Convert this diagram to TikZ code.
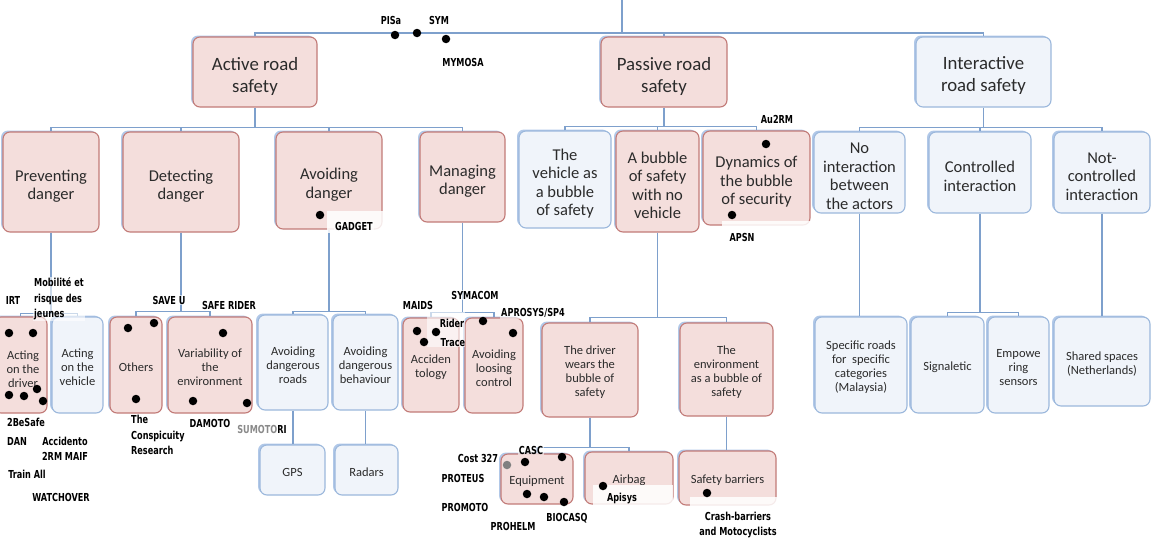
\documentclass[tikz,border=0pt]{standalone}
\usepackage{fontspec}
\setmainfont{Carlito}
\newfontfamily\lblfont[FakeStretch=0.74]{DejaVu Sans}
\usetikzlibrary{shadows}
\definecolor{pinkfill}{HTML}{F4DEDC}
\definecolor{pinkborder}{HTML}{C27B78}
\definecolor{bluefill}{HTML}{F0F4FA}
\definecolor{blueborder}{HTML}{9CB8DC}
\definecolor{shadowblue}{HTML}{A9C3E6}
\definecolor{linecol}{HTML}{7EA0CC}
\definecolor{txt}{HTML}{2B2B2B}
\definecolor{graytxt}{HTML}{8A8A8A}
\tikzset{
 base/.style={rounded corners=7pt, line width=1.1pt, inner sep=0pt,
   drop shadow={shadow xshift=-2pt, shadow yshift=1.5pt, fill=shadowblue, opacity=0.9}},
 pinkbox/.style={base, fill=pinkfill, draw=pinkborder},
 bluebox/.style={base, fill=bluefill, draw=blueborder},
 btext/.style={inner sep=0pt, align=center, text=txt},
 L1/.style={btext, yshift=-4pt, font=\fontsize{18.8}{22}\selectfont},
 L2/.style={btext, yshift=-4pt, font=\fontsize{16.5}{18.5}\selectfont},
 L3/.style={btext, yshift=-2.5pt, font=\fontsize{12.5}{14}\selectfont},
 conn/.style={draw=linecol, line width=1.2pt},
 dot/.style={circle, fill=black, minimum size=8.5pt, inner sep=0pt},
 lbl/.style={font=\lblfont\bfseries\fontsize{11}{15.5}\selectfont, inner sep=1pt, align=center,
   fill=white, fill opacity=0.6, text opacity=1},
 lbll/.style={lbl, align=left},
 patch/.style={fill=white, opacity=0.85},
}
% \bx{name}{box style}{text style}{x1}{y1}{x2}{y2}{text}
\newcommand\bx[8]{\pgfmathsetmacro\bw{#6-#4}\pgfmathsetmacro\bh{#7-#5}%
 \node[#2, minimum width=\bw pt, minimum height=\bh pt] (#1) at ({(#4+#6)/2},{(#5+#7)/2}) {};%
 \node[#3] (#1-t) at (#1.center) {#8};}
\begin{document}
\begin{tikzpicture}[x=1pt,y=-1pt]
\fill[white] (0,0) rectangle (1152,538);
\useasboundingbox (0,0) rectangle (1152,538);
% level 1
\bx{act}{pinkbox}{L1}{193}{37}{317}{107}{Active road\\safety}
\bx{pas}{pinkbox}{L1}{601}{37}{727}{107}{Passive road\\safety}
\bx{inter}{bluebox}{L1}{916}{37}{1051}{107}{Interactive\\road safety}
% level 2
\bx{prev}{pinkbox}{L2}{3}{132}{99}{232}{Preventing\\danger}
\bx{det}{pinkbox}{L2}{123}{132}{239}{232}{Detecting\\danger}
\bx{avd}{pinkbox}{L2}{276}{132}{382}{229}{Avoiding\\danger}
\bx{man}{pinkbox}{L2}{420}{132}{505}{222}{Managing\\danger}
\bx{veh}{bluebox}{L2}{519}{131}{611}{228}{The\\vehicle as\\a bubble\\of safety}
\bx{nov}{pinkbox}{L2}{616}{131}{699}{232}{A bubble\\of safety\\with no\\vehicle}
\bx{dyn}{pinkbox}{L2}{703}{131}{810}{225}{Dynamics of\\the bubble\\of security}
\bx{noi}{bluebox}{L2}{814}{132}{905}{213}{No\\interaction\\between\\the actors}
\bx{ctl}{bluebox}{L2}{929}{132}{1031}{213}{Controlled\\interaction}
\bx{nct}{bluebox}{L2}{1054}{132}{1150}{213}{Not-\\controlled\\interaction}
% level 3
\bx{actd}{pinkbox}{L3}{-6}{317}{47}{413}{}
\node[L3] (actd-tt) at (23,367) {Acting\\on the\\driver};
\bx{actv}{bluebox}{L3}{52}{317}{103}{413}{Acting\\on the\\vehicle}
\bx{oth}{pinkbox}{L3}{110}{317}{162}{413}{Others}
\bx{var}{pinkbox}{L3}{168}{317}{252}{413}{Variability of\\the\\environment}
\bx{adr}{bluebox}{L3}{258}{315}{328}{410}{Avoiding\\dangerous\\roads}
\bx{adb}{bluebox}{L3}{333}{315}{398}{410}{Avoiding\\dangerous\\behaviour}
\bx{gps}{bluebox}{L3}{260}{445}{325}{495}{GPS}
\bx{rad}{bluebox}{L3}{335}{445}{398}{495}{Radars}
\bx{acc}{pinkbox}{L3}{403}{318}{459}{412}{Acciden\\tology}
\bx{alc}{pinkbox}{L3}{465}{318}{523}{413}{Avoiding\\loosing\\control}
\bx{drv}{pinkbox}{L3}{542}{323}{638}{417}{The driver\\wears the\\bubble of\\safety}
\bx{env}{pinkbox}{L3}{680}{323}{773}{416}{The\\environment\\as a bubble of\\safety}
\bx{eqp}{pinkbox}{L3}{501}{454}{573}{504}{Equipment}
\bx{air}{pinkbox}{L3}{585}{452}{673}{504}{Airbag}
\bx{sfb}{pinkbox}{L3}{679}{451}{776}{505}{Safety barriers}
\bx{spr}{bluebox}{L3}{815}{317}{907}{413}{Specific roads\\for~ specific\\categories\\(Malaysia)}
\bx{sig}{bluebox}{L3}{911}{317}{984}{413}{Signaletic}
\bx{emp}{bluebox}{L3}{988}{317}{1049}{413}{Empowe\\ring\\sensors}
\bx{shs}{bluebox}{L3}{1054}{317}{1150}{406}{Shared spaces\\(Netherlands)}
% connectors
\coordinate (top) at (622,0);
\coordinate (b0) at (622,33);
\draw[conn] (top) -- (b0);
\draw[conn] (act.north) |- (b0) -| (inter.north);
\draw[conn] (pas.north) -- (pas.north |- b0);
\path (act.south) ++(0,20) coordinate (b1);
\draw[conn] (act.south) -- (b1);
\draw[conn] (prev.north) |- (b1) -| (man.north);
\draw[conn] (det.north) -- (det.north |- b1);
\draw[conn] (avd.north) -- (avd.north |- b1);
\path (pas.south) ++(0,19) coordinate (b2);
\draw[conn] (pas.south) -- (b2);
\draw[conn] (veh.north) |- (b2) -| (dyn.north);
\draw[conn] (nov.north) -- (nov.north |- b2);
\path (inter.south) ++(0,20) coordinate (b3);
\draw[conn] (inter.south) -- (b3);
\draw[conn] (noi.north) |- (b3) -| (nct.north);
\draw[conn] (ctl.north) -- (ctl.north |- b3);
\path (prev.south) ++(0,81) coordinate (b4);
\draw[conn] (prev.south) -- (b4);
\draw[conn] (actd.north) |- (b4) -| (actv.north);
\path (det.south) ++(0,79) coordinate (b5);
\draw[conn] (det.south) -- (b5);
\draw[conn] (oth.north) |- (b5) -| (var.north);
\path (avd.south) ++(0,82) coordinate (b6);
\draw[conn] (avd.south) -- (b6);
\draw[conn] (adr.north) |- (b6) -| (adb.north);
\path (man.south) ++(0,90) coordinate (b7);
\draw[conn] (man.south) -- (b7);
\draw[conn] (acc.north) |- (b7) -| (alc.north);
\path (nov.south) ++(0,85) coordinate (b8);
\draw[conn] (nov.south) -- (b8);
\draw[conn] (drv.north) |- (b8) -| (env.north);
\path (drv.south) ++(0,30) coordinate (b9);
\draw[conn] (drv.south) -- (b9);
\draw[conn] (eqp.north) |- (b9) -| (air.north);
\draw[conn] (env.south) -- (env.south |- sfb.north);
\draw[conn] (adr.south) -- (adr.south |- gps.north);
\draw[conn] (adb.south) -- (adb.south |- rad.north);
\path (ctl.south) ++(0,99) coordinate (b10);
\draw[conn] (ctl.south) -- (b10);
\draw[conn] (sig.north) |- (b10) -| (emp.north);
\draw[conn] (noi.south) -- (noi.south |- spr.north);
\draw[conn] (nct.south) -- (nct.south |- shs.north);
% white patches
\fill[patch] (327,211) rectangle (383,233);
\fill[patch] (593,485) rectangle (673,505);
\fill[patch] (690,497) rectangle (777,507);
\fill[patch] (722,221) rectangle (811,228);
\fill[white, opacity=0.6] (427,312) rectangle (465,347);
% labels
\node[lbl] (lpisa) at (391,20) {PISa};
\node[lbl] (lsym) at (439,20) {SYM};
\node[lbl] (lmymosa) at (463,62) {MYMOSA};
\node[lbl] (lgadget) at (354,226) {GADGET};
\node[lbl] (lau2rm) at (777,119) {Au2RM};
\node[lbl] (lapsn) at (742,237) {APSN};
\node[lbl] (lirt) at (13,300) {IRT};
\node[lbll, anchor=west] (lmob) at (33,299) {Mobilité et\\risque des\\jeunes};
\node[lbl] (l2be) at (26,422) {2BeSafe};
\node[lbl] (ldan) at (17,441) {DAN};
\node[lbl] (lacc) at (65,449) {Accidento\\2RM MAIF};
\node[lbl] (ltrain) at (27,474) {Train All};
\node[lbl] (lwatch) at (61,497) {WATCHOVER};
\node[lbl] (lsaveu) at (169,300) {SAVE U};
\node[lbl] (lsafer) at (229,305) {SAFE RIDER};
\node[lbll, anchor=west] (lconsp) at (130,435) {The\\Conspicuity\\Research};
\node[lbl] (ldamoto) at (210,423) {DAMOTO};
\node[lbl] (lsumo) at (262,429) {\textcolor{graytxt}{SUMOTO}RI};
\node[lbl] (lmaids) at (418,305) {MAIDS};
\node[lbl] (lsymacom) at (475,295) {SYMACOM};
\node[lbl] (laprosys) at (533,313) {APROSYS/SP4};
\node[lbl, fill opacity=0] (lrider) at (452,323) {Rider};
\node[lbl, fill opacity=0] (ltrace) at (453,343) {Trace};
\node[lbl] (lcost) at (478,458) {Cost 327};
\node[lbl] (lcasc) at (531,450) {CASC};
\node[lbl] (lproteus) at (463,478) {PROTEUS};
\node[lbl] (lpromoto) at (465,507) {PROMOTO};
\node[lbl] (lprohelm) at (513,526) {PROHELM};
\node[lbl] (lbiocasq) at (567,518) {BIOCASQ};
\node[lbl, fill opacity=0] (lapisys) at (622,499) {Apisys};
\node[lbl] (lcrash) at (738,525) {Crash-barriers\\and Motocyclists};
% dots
\foreach \px/\py [count=\i] in {395/35,417/33,446/39,320/215,766/144,732/215,
  9/333,33/333,9/395,24/396,37/389,43/401,128/328,154/323,136/399,
  223/333,193/401,247/403,417/331,436/332,424/342,483/321,513/333,
  525/462,562/457,527/494,544/497,564/502,603/486,707/493}
  \node[dot] (dot\i) at (\px,\py) {};
\node[dot, fill=gray] (dotcost) at (507,465) {};
\end{tikzpicture}
\end{document}
